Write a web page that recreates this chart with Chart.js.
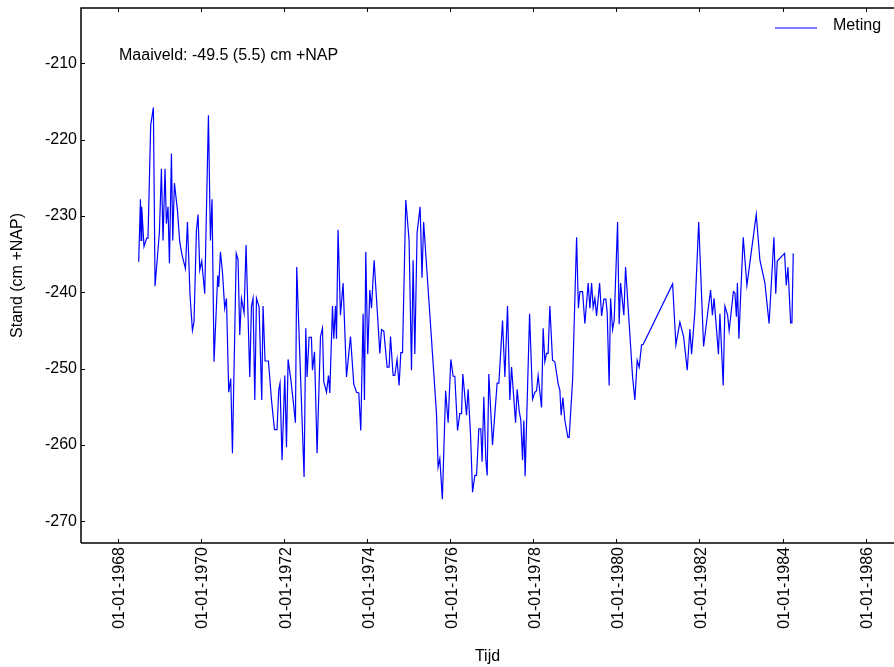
<!DOCTYPE html>
<html>
<head>
<meta charset="utf-8">
<script src="https://cdn.jsdelivr.net/npm/chart.js@4.4.1/dist/chart.umd.min.js"></script>
<style>
  html, body { margin: 0; padding: 0; background: #fff; }
  #wrap { width: 894px; height: 667px; position: relative; }
</style>
</head>
<body>
<div id="wrap"><canvas id="c" width="894" height="667"></canvas></div>
<script>
// ---- data (decimal year, cm +NAP) ----
const seriesName = "Meting";
const annotation = "Maaiveld: -49.5 (5.5) cm +NAP";
const xTitle = "Tijd";
const yTitle = "Stand (cm +NAP)";
const xTickYears = [1968, 1970, 1972, 1974, 1976, 1978, 1980, 1982, 1984, 1986];
const yTickValues = [-270, -260, -250, -240, -230, -220, -210];

const years = [
1968.498,1968.540,1968.554,1968.571,1968.626,1968.691,1968.722,1968.787,1968.852,1968.892,
1968.997,1969.045,1969.084,1969.132,1969.165,1969.204,1969.238,1969.286,1969.318,1969.358,
1969.430,1969.486,1969.541,1969.624,1969.672,1969.734,1969.792,1969.830,1969.888,1969.927,
1969.968,1970.016,1970.088,1970.177,1970.225,1970.264,1970.312,1970.401,1970.425,1970.466,
1970.514,1970.569,1970.611,1970.666,1970.714,1970.755,1970.847,1970.890,1970.931,1970.972,
1971.035,1971.083,1971.172,1971.213,1971.251,1971.293,1971.334,1971.396,1971.461,1971.492,
1971.540,1971.622,1971.695,1971.767,1971.829,1971.870,1971.901,1971.949,1972.015,1972.056,
1972.095,1972.167,1972.215,1972.272,1972.303,1972.480,1972.521,1972.552,1972.600,1972.657,
1972.682,1972.731,1972.793,1972.875,1972.923,1972.954,1973.020,1973.068,1973.099,1973.164,
1973.195,1973.236,1973.260,1973.298,1973.356,1973.419,1973.501,1973.597,1973.676,1973.742,
1973.797,1973.845,1973.901,1973.934,1973.965,1974.013,1974.063,1974.103,1974.166,1974.271,
1974.303,1974.344,1974.400,1974.479,1974.527,1974.561,1974.623,1974.664,1974.719,1974.768,
1974.809,1974.850,1974.929,1975.008,1975.066,1975.105,1975.146,1975.201,1975.274,1975.319,
1975.358,1975.668,1975.707,1975.748,1975.809,1975.888,1975.948,1976.013,1976.068,1976.109,
1976.175,1976.230,1976.271,1976.302,1976.391,1976.429,1976.488,1976.536,1976.591,1976.632,
1976.687,1976.735,1976.766,1976.807,1976.856,1976.888,1976.928,1977.017,1977.128,1977.170,
1977.258,1977.314,1977.378,1977.434,1977.475,1977.572,1977.610,1977.658,1977.699,1977.740,
1977.771,1977.802,1977.909,1977.981,1978.036,1978.077,1978.115,1978.197,1978.236,1978.277,
1978.318,1978.356,1978.397,1978.462,1978.517,1978.598,1978.638,1978.669,1978.711,1978.759,
1978.831,1978.862,1978.945,1979.041,1979.084,1979.120,1979.185,1979.240,1979.320,1979.361,
1979.402,1979.440,1979.481,1979.522,1979.595,1979.643,1979.698,1979.746,1979.777,1979.825,
1979.859,1979.907,1979.946,1980.028,1980.066,1980.100,1980.179,1980.220,1980.389,1980.444,
1980.500,1980.548,1980.605,1980.645,1981.353,1981.432,1981.528,1981.617,1981.705,1981.769,
1981.810,1981.889,1981.981,1982.099,1982.186,1982.267,1982.311,1982.351,1982.456,1982.492,
1982.571,1982.612,1982.677,1982.714,1982.817,1982.853,1982.889,1982.913,1982.949,1982.997,
1983.053,1983.142,1983.238,1983.366,1983.455,1983.575,1983.676,1983.792,1983.836,1983.872,
1984.049,1984.089,1984.130,1984.195,1984.226,1984.257
];
const levels = [
-236.0,-227.8,-233.2,-228.8,-234.0,-232.9,-232.9,-218.1,-215.8,-239.2,
-232.1,-223.8,-233.2,-223.8,-231.0,-228.8,-236.2,-221.8,-233.2,-225.7,
-229.2,-233.4,-235.1,-236.9,-230.8,-240.4,-245.0,-243.9,-231.9,-229.8,
-237.1,-235.9,-240.2,-216.8,-233.2,-227.8,-249.1,-237.8,-239.3,-234.7,
-237.3,-242.1,-240.8,-253.1,-251.3,-261.1,-234.9,-235.7,-245.6,-240.8,
-242.7,-233.8,-251.1,-241.8,-240.8,-254.1,-240.8,-241.9,-254.1,-241.8,
-249.0,-249.0,-254.1,-258.0,-258.0,-252.8,-251.9,-262.0,-250.9,-260.3,
-248.8,-251.7,-254.1,-257.1,-236.7,-264.2,-244.7,-251.1,-245.9,-245.9,
-250.2,-247.8,-261.1,-245.8,-244.7,-251.7,-253.1,-250.9,-253.2,-241.8,
-246.1,-241.8,-246.1,-231.8,-243.0,-238.8,-251.1,-245.8,-252.0,-253.1,
-253.2,-258.1,-242.8,-254.1,-234.7,-248.1,-239.7,-242.1,-235.8,-245.0,
-248.0,-244.9,-245.1,-249.8,-249.8,-245.8,-250.9,-250.9,-248.8,-252.2,
-247.9,-247.9,-227.9,-233.2,-250.2,-235.8,-248.1,-232.2,-228.8,-238.1,
-230.8,-255.9,-262.9,-261.8,-267.1,-252.9,-257.1,-248.8,-251.0,-251.0,
-258.1,-255.9,-255.9,-250.7,-256.1,-252.7,-258.7,-266.2,-264.0,-264.0,
-257.9,-257.9,-262.2,-253.7,-262.0,-264.0,-250.7,-260.0,-251.9,-251.9,
-243.7,-251.1,-241.8,-254.1,-249.8,-257.1,-252.7,-255.5,-256.8,-262.0,
-256.8,-264.1,-242.8,-254.0,-253.1,-252.9,-250.9,-255.1,-244.7,-249.1,
-248.0,-248.0,-241.8,-248.9,-249.1,-252.0,-252.8,-256.1,-253.8,-256.8,
-259.0,-259.0,-251.5,-232.8,-242.1,-239.9,-239.9,-244.1,-238.8,-242.1,
-238.8,-242.0,-240.8,-243.1,-238.8,-243.1,-240.9,-240.9,-242.6,-252.2,
-240.8,-244.9,-243.7,-230.8,-244.2,-238.8,-243.0,-236.7,-251.1,-254.1,
-248.9,-249.8,-246.9,-246.8,-238.9,-246.9,-243.9,-245.8,-250.2,-244.8,
-248.1,-242.5,-230.8,-247.1,-243.2,-239.7,-243.0,-240.8,-248.1,-242.8,
-252.2,-241.8,-243.0,-245.0,-239.9,-240.1,-243.2,-238.8,-246.1,-239.7,
-232.8,-239.1,-235.1,-229.8,-235.8,-238.8,-244.1,-232.8,-240.2,-235.9,
-234.9,-239.1,-236.7,-244.0,-244.0,-234.9
];

const xMin = 1967.109, xMax = 1986.683;
const yMin = -272.85, yMax = -202.75;
const lineColor = '#0000ff';
const FONT = '"Liberation Sans", Arial, Helvetica, sans-serif';

const points = years.map((yr, i) => ({ x: yr, y: levels[i] }));

const framePlugin = {
  id: 'frame',
  afterDraw(chart) {
    const { ctx, chartArea: a, scales: { x, y } } = chart;
    ctx.save();
    ctx.strokeStyle = '#000';
    ctx.lineWidth = 1;
    ctx.beginPath();
    xTickYears.forEach(v => {
      const px = Math.round(x.getPixelForValue(v)) + 0.5;
      ctx.moveTo(px, a.bottom); ctx.lineTo(px, a.bottom - 4);
      ctx.moveTo(px, a.top); ctx.lineTo(px, a.top + 4);
    });
    yTickValues.forEach(v => {
      const py = Math.round(y.getPixelForValue(v)) + 0.5;
      ctx.moveTo(a.left, py); ctx.lineTo(a.left + 4, py);
    });
    ctx.stroke();
    ctx.lineWidth = 1.5;
    ctx.beginPath();
    ctx.moveTo(a.left, a.bottom); ctx.lineTo(a.left, a.top); ctx.lineTo(a.right + 2, a.top);
    ctx.moveTo(a.left, a.bottom); ctx.lineTo(a.right + 2, a.bottom);
    ctx.stroke();

    ctx.fillStyle = '#000';
    ctx.font = '16px ' + FONT;
    ctx.textAlign = 'left';
    ctx.textBaseline = 'alphabetic';
    ctx.fillText(annotation, a.left + 38, a.top + 52);

    // legend
    ctx.strokeStyle = lineColor;
    ctx.lineWidth = 1.2;
    ctx.beginPath();
    ctx.moveTo(775, a.top + 20); ctx.lineTo(817, a.top + 20);
    ctx.stroke();
    ctx.fillText(seriesName, 833, a.top + 22);
    ctx.restore();
  }
};

new Chart(document.getElementById('c'), {
  type: 'line',
  data: {
    datasets: [{
      label: seriesName,
      data: points,
      borderColor: lineColor,
      borderWidth: 1.2,
      pointRadius: 0,
      tension: 0,
      fill: false
    }]
  },
  options: {
    responsive: false,
    animation: false,
    parsing: false,
    normalized: true,
    layout: { padding: { top: 8, left: 0, right: 0, bottom: 0 } },
    plugins: { legend: { display: false }, tooltip: { enabled: false } },
    scales: {
      x: {
        type: 'linear',
        min: xMin, max: xMax,
        grid: { display: false, drawTicks: false },
        border: { display: false },
        afterBuildTicks: s => { s.ticks = xTickYears.map(v => ({ value: v })); },
        afterFit: s => { s.height = 124; s.paddingLeft = 0; s.paddingRight = 0; },
        ticks: {
          autoSkip: false,
          minRotation: 90, maxRotation: 90,
          padding: 4,
          labelOffset: 2,
          color: '#000',
          font: { family: FONT, size: 16 },
          callback: v => '01-01-' + v
        },
        title: {
          display: true, text: xTitle, color: '#000',
          font: { family: FONT, size: 16 },
          padding: { top: 0, bottom: 1 }
        }
      },
      y: {
        type: 'linear',
        min: yMin, max: yMax,
        grid: { display: false, drawTicks: false },
        border: { display: false },
        afterBuildTicks: s => { s.ticks = yTickValues.map(v => ({ value: v })); },
        afterFit: s => { s.width = 81; s.paddingTop = 0; s.paddingBottom = 0; },
        ticks: {
          padding: 4,
          color: '#000',
          font: { family: FONT, size: 16 },
          callback: v => String(v)
        },
        title: {
          display: true, text: yTitle, color: '#000',
          font: { family: FONT, size: 16 },
          padding: { top: 8, bottom: 0 }
        }
      }
    }
  },
  plugins: [framePlugin]
});
</script>
</body>
</html>
